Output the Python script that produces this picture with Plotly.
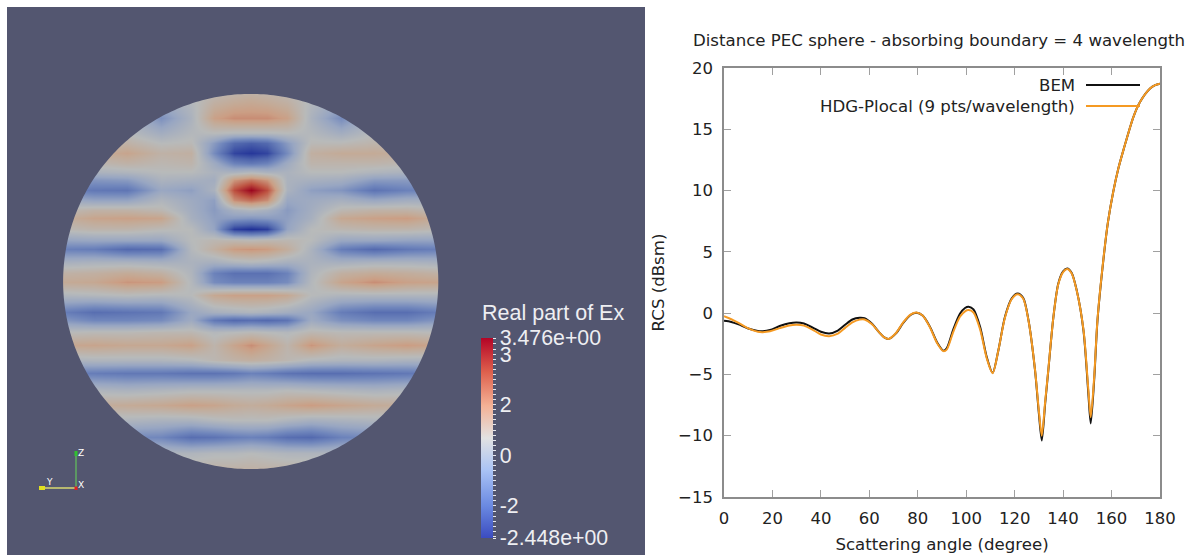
import numpy as np
import plotly.graph_objects as go

W, H = 1194, 555

# ---------- right panel: RCS curves ----------
ANGLE = [0, 3, 6, 10, 14, 16, 19, 23, 27, 30, 33, 37, 40, 43.4, 47, 50, 53, 56, 58, 61, 64, 66, 68, 71, 74, 77, 79.5,
         82, 85, 88, 90.6, 92, 94.7, 97.4, 99.5, 101, 103, 105.7, 108.5, 110.9, 113.3, 116, 118.8, 121.2, 123.5, 125.7,
         128.4, 130, 131.2, 132.6, 133.9, 136, 138, 140, 141.7, 143.5, 145.6, 148.4, 150.4, 151.4, 152.8, 154.2, 156.6,
         158.5, 160.7, 162.8, 164.9, 169, 171.8, 176, 178, 180]
BEM = [-0.63, -0.72, -0.92, -1.25, -1.45, -1.47, -1.38, -1.05, -0.82, -0.76, -0.85, -1.22, -1.52, -1.66, -1.42, -0.95, -0.52,
       -0.38, -0.42, -0.85, -1.55, -1.95, -2.1, -1.65, -0.8, -0.15, 0.03, -0.2, -1.1, -2.4, -3.07, -2.85, -1.3, -0.05, 0.42, 0.52,
       0.3, -1.1, -3.6, -4.87, -3.0, -0.3, 1.2, 1.6, 1.25, -0.57, -4.65, -8.2, -10.4, -7.35, -4.65, -0.3, 2.4, 3.4, 3.65, 3.3,
       1.88, -1.4, -6.5, -9.0, -5.5, -0.57, 4.3, 7.4, 9.9, 11.8, 13.3, 16.0, 17.25, 18.35, 18.6, 18.72]
HDG = [-0.25, -0.5, -0.8, -1.25, -1.52, -1.55, -1.48, -1.22, -1.0, -0.95, -1.02, -1.4, -1.74, -1.88, -1.68, -1.2, -0.75,
       -0.53, -0.52, -0.88, -1.55, -1.95, -2.1, -1.62, -0.75, -0.12, 0.05, -0.2, -1.15, -2.45, -3.1, -2.95, -1.5, -0.3, 0.15, 0.25,
       0.05, -1.3, -3.7, -4.9, -3.0, -0.35, 1.15, 1.55, 1.2, -0.6, -4.6, -8.0, -10.0, -7.2, -4.6, -0.3, 2.35, 3.35, 3.6, 3.25,
       1.85, -1.35, -6.2, -8.5, -5.3, -0.5, 4.35, 7.4, 9.9, 11.8, 13.3, 16.0, 17.25, 18.35, 18.6, 18.72]
CURVE_NAMES = ["BEM", "HDG-Plocal (9 pts/wavelength)"]
X_TICKS = list(range(0, 181, 20))
Y_TICKS = list(range(-15, 21, 5))

# ---------- left panel: field samples (Real part of Ex) ----------
FIELD_X = [-10, 102, 202, 302, 392, 462, 522, 572, 622, 682, 752, 842, 942, 1042, 1160]
FIELD_Y = [0, 30, 85, 130, 160, 190, 220, 245, 270, 300, 330, 360, 385, 418, 450, 478, 515, 550, 575, 615, 665, 690, 725, 765, 810, 850, 900, 945, 990, 1040, 1090, 1155]
FIELD = [
    [0.5, 0.5, 0.4, 0.4, 0.5, 0.6, 0.7, 0.8, 0.7, 0.6, 0.5, 0.4, 0.4, 0.5, 0.5],   # 0
    [0.4, 0.4, 0.3, 0.0, 0.4, 0.9, 1.1, 1.2, 1.1, 0.9, 0.4, 0.0, 0.3, 0.4, 0.4],   # 30
    [0.4, 0.4, 0.2, -0.7, 0.2, 1.5, 1.8, 1.8, 1.8, 1.5, 0.2, -0.8, 0.2, 0.4, 0.4], # 85
    [0.5, 0.6, 0.5, 0.0, 0.4, 0.5, 0.4, 0.4, 0.4, 0.5, 0.4, 0.0, 0.5, 0.6, 0.5],   # 130
    [0.6, 0.7, 0.9, 0.5, 0.6, -0.5, -1.5, -1.7, -1.5, -0.5, 0.6, 0.6, 0.8, 0.7, 0.6], # 160
    [0.9, 1.1, 1.4, 0.9, 1.0, -0.8, -2.1, -2.3, -2.1, -0.8, 1.0, 1.2, 1.2, 1.1, 0.9], # 190
    [0.6, 0.7, 0.9, 0.7, 0.8, -0.1, -1.0, -1.2, -1.0, -0.1, 0.8, 0.8, 0.8, 0.7, 0.6], # 220
    [0.3, 0.2, 0.3, 0.5, 0.5, 0.2, 0.2, 0.4, 0.2, 0.2, 0.5, 0.5, 0.3, 0.2, 0.3],   # 245
    [-0.4, -0.6, -0.5, 0.2, 0.1, 0.0, 1.7, 2.1, 1.7, 0.2, 0.1, 0.0, -0.5, -0.5, -0.4], # 270
    [-0.9, -1.2, -1.25, -0.2, -0.4, 0.2, 2.6, 3.47, 2.6, 0.2, -0.4, -0.6, -1.3, -1.0, -0.9], # 300
    [0.0, -0.3, -0.3, 0.3, -0.1, -0.4, 1.8, 2.2, 1.8, -0.2, -0.1, 0.1, -0.2, 0.0, 0.0], # 330
    [0.6, 0.9, 0.9, 0.7, 0.0, -0.5, 0.1, 0.3, 0.1, -0.5, 0.0, 0.7, 0.9, 0.9, 0.6], # 360
    [1.0, 1.4, 1.5, 1.4, 0.1, -0.4, -0.5, -0.6, -0.5, -0.4, 0.1, 1.3, 1.5, 1.6, 1.0], # 385
    [0.6, 0.8, 0.8, 0.6, 0.5, -0.3, -2.2, -2.42, -2.2, -0.3, 0.5, 0.7, 0.8, 0.8, 0.6], # 418
    [-0.3, -0.2, -0.2, -0.2, 0.5, 0.7, 0.7, 0.6, 0.7, 0.7, 0.5, -0.2, -0.2, -0.3, -0.3], # 450
    [-1.0, -1.1, -1.5, -1.4, 0.4, 1.0, 1.6, 1.7, 1.6, 1.1, 0.2, -1.1, -1.5, -1.2, -1.0], # 478
    [0.1, 0.2, 0.2, 0.1, 0.2, 0.1, 0.3, 0.4, 0.3, 0.1, 0.2, 0.1, 0.2, 0.2, 0.1],   # 515
    [0.9, 1.0, 1.2, 1.0, 0.3, -1.0, -1.35, -1.35, -1.35, -1.0, 0.3, 1.0, 1.2, 1.1, 0.9], # 550
    [1.2, 1.3, 1.7, 1.6, 0.4, -0.8, -1.0, -1.0, -1.0, -0.8, 0.4, 1.4, 1.8, 1.5, 1.4], # 575
    [0.3, 0.4, 0.5, 0.4, 0.5, 1.3, 1.5, 1.5, 1.5, 1.3, 0.5, 0.3, 0.3, 0.3, 0.3],   # 615
    [-1.0, -1.4, -1.3, -1.2, -0.2, 0.1, 0.2, 0.3, 0.2, 0.0, -0.2, -1.1, -1.4, -1.4, -1.0], # 665
    [-0.5, -0.9, -0.9, -0.8, -0.1, -1.2, -1.5, -1.4, -1.5, -1.3, -0.1, -0.7, -0.9, -0.9, -0.5], # 690
    [0.5, 0.6, 0.6, 0.7, 0.7, 0.4, 0.5, 0.6, 0.5, 0.4, 0.7, 0.6, 0.6, 0.6, 0.5],   # 725
    [1.3, 1.4, 1.3, 1.3, 1.5, 0.8, 1.4, 1.8, 1.4, 0.8, 1.7, 1.1, 1.4, 1.6, 1.3],   # 765
    [0.2, 0.3, 0.3, 0.3, 0.4, 0.7, 0.9, 1.0, 0.9, 0.7, 0.4, 0.3, 0.3, 0.2, 0.2],   # 810
    [-1.0, -1.1, -1.2, -1.2, -1.3, -1.3, -1.2, -1.0, -1.1, -1.3, -1.4, -1.4, -1.3, -1.2, -1.0], # 850
    [0.3, 0.3, 0.2, 0.3, 0.4, 0.4, 0.4, 0.4, 0.4, 0.5, 0.4, 0.3, 0.2, 0.3, 0.3],   # 900
    [1.0, 1.1, 1.2, 1.3, 1.5, 1.4, 1.2, 1.1, 1.2, 1.4, 1.6, 1.4, 1.2, 1.1, 1.0],   # 945
    [0.3, 0.3, 0.3, 0.2, 0.2, 0.4, 0.5, 0.5, 0.5, 0.3, 0.1, 0.2, 0.3, 0.3, 0.3],   # 990
    [-0.6, -0.7, -0.8, -0.9, -1.4, -1.3, -1.1, -1.0, -1.1, -1.4, -1.5, -1.0, -0.8, -0.7, -0.6], # 1040
    [0.3, 0.3, 0.3, 0.3, 0.3, 0.4, 0.4, 0.5, 0.4, 0.3, 0.3, 0.3, 0.3, 0.3, 0.3],   # 1090
    [1.0, 1.0, 1.0, 1.0, 1.0, 1.1, 1.1, 1.1, 1.1, 1.1, 1.0, 1.0, 1.0, 1.0, 1.0],   # 1155
]
FIELD_MIN, FIELD_MAX = -2.448, 3.476
BAR_TICK_VALUES = [3.476, 3, 1.5, 0, -1.5, -2.448]
BAR_TICK_LABELS = ["3.476e+00", "3", "2", "0", "-2", "-2.448e+00"]

BG = "#535670"
BAR_STOPS = [0, 0.16, 0.34, 0.5, 0.66, 0.83, 1]
BAR_RGB = [(59, 76, 192), (106, 137, 225), (170, 195, 245), (226, 226, 226), (244, 178, 150), (222, 96, 77), (180, 4, 38)]
SURF_STOPS = [0, 0.14, 0.26, 0.37, 0.5, 0.62, 0.68, 0.84, 1]
SURF_RGB = [(30, 46, 150), (78, 100, 172), (112, 134, 188), (152, 166, 194), (184, 186, 186), (196, 170, 150), (203, 158, 132), (190, 84, 66), (155, 5, 30)]
scale = lambda stops, rgb: [[s, "rgb(%d,%d,%d)" % c] for s, c in zip(stops, rgb)]

# pixel helpers
px = lambda x: x / W
py = lambda y: 1 - y / H
to_dx = lambda x: (x - 60) * 3
to_dy = lambda y: (y - 90) * 3

fig = go.Figure()

fig.add_trace(go.Heatmap(x=FIELD_X, y=FIELD_Y, z=FIELD, zmin=FIELD_MIN, zmax=FIELD_MAX, zsmooth="best",
                         colorscale=scale(SURF_STOPS, SURF_RGB), showscale=False, xaxis="x2", yaxis="y2", hoverinfo="skip"))

minor = [round(v * 0.15, 2) for v in range(-16, 24)]
tickvals = BAR_TICK_VALUES + [v for v in minor if v not in BAR_TICK_VALUES]
ticktext = BAR_TICK_LABELS + [""] * (len(tickvals) - len(BAR_TICK_LABELS))
fig.add_trace(go.Scatter(x=[-900, -900], y=[-900, -900], mode="markers", xaxis="x2", yaxis="y2", showlegend=False,
                         hoverinfo="skip",
                         marker=dict(color=[FIELD_MIN, FIELD_MAX], cmin=FIELD_MIN, cmax=FIELD_MAX,
                                     colorscale=scale(BAR_STOPS, BAR_RGB), showscale=True,
                                     colorbar=dict(x=px(481), xanchor="left", xpad=0, y=py(538), yanchor="bottom", ypad=0,
                                                   thickness=12, thicknessmode="pixels", len=200, lenmode="pixels",
                                                   outlinewidth=0, tickmode="array", tickvals=tickvals, ticktext=ticktext,
                                                   ticks="outside", ticklen=3, tickcolor="#e8e8ee", tickwidth=1,
                                                   tickfont=dict(family="Liberation Sans", size=21.3, color="#eeeef2")))))

fig.add_trace(go.Scatter(x=ANGLE, y=BEM, mode="lines", name=CURVE_NAMES[0], line=dict(color="#111111", width=2, shape="spline", smoothing=0.8), showlegend=False))
fig.add_trace(go.Scatter(x=ANGLE, y=HDG, mode="lines", name=CURVE_NAMES[1], line=dict(color="#f59a23", width=2, shape="spline", smoothing=0.8), showlegend=False))

# circular mask
theta = np.linspace(0, 2 * np.pi, 361)
cx, cy, r = to_dx(250.7), to_dy(281.5), 187.6 * 3
hole = "M" + " L".join(f"{cx + r * np.cos(t):.1f},{cy + r * np.sin(t):.1f}" for t in theta) + " Z"
outer = "M-150,-150 L1320,-150 L1320,1320 L-150,1320 Z "
shapes = [
    dict(type="rect", xref="paper", yref="paper", x0=px(7), x1=px(645), y0=0, y1=py(7), fillcolor=BG, line_width=0, layer="below"),
    dict(type="path", xref="x2", yref="y2", path=outer + hole, fillcolor=BG, line_width=0, fillrule="evenodd"),
    # orientation triad
    dict(type="line", xref="paper", yref="paper", x0=px(76), x1=px(76), y0=py(488), y1=py(452), line=dict(color="#5fae5f", width=1.5)),
    dict(type="line", xref="paper", yref="paper", x0=px(76), x1=px(41), y0=py(488), y1=py(488), line=dict(color="#d8d870", width=1.5)),
    dict(type="rect", xref="paper", yref="paper", x0=px(74.5), x1=px(77.5), y0=py(456), y1=py(451), fillcolor="#30c030", line_width=0),
    dict(type="rect", xref="paper", yref="paper", x0=px(39), x1=px(45), y0=py(490), y1=py(486), fillcolor="#e0e020", line_width=0),
    dict(type="rect", xref="paper", yref="paper", x0=px(74.5), x1=px(77.5), y0=py(490), y1=py(486.5), fillcolor="#e02020", line_width=0),
    # legend samples
    dict(type="line", xref="paper", yref="paper", x0=px(1086), x1=px(1140), y0=py(85), y1=py(85), line=dict(color="#111111", width=2)),
    dict(type="line", xref="paper", yref="paper", x0=px(1086), x1=px(1140), y0=py(106), y1=py(106), line=dict(color="#f59a23", width=2)),
]

FONT = "DejaVu Sans"
def note(text, x, y, size, color, anchor="left", family=FONT):
    return dict(text=text, x=px(x), y=py(y), xref="paper", yref="paper", showarrow=False, xanchor=anchor, yanchor="middle",
                font=dict(family=family, size=size, color=color), borderpad=0)

annotations = [
    note("Real part of Ex", 481, 313, 21.5, "#eeeef2", family="Liberation Sans"),
    note("Z", 77, 453, 9, "#ffffff"),
    note("Y", 45, 482, 9, "#ffffff"),
    note("X", 77, 485, 9, "#ffffff"),
    note(CURVE_NAMES[0], 1076, 85, 16.6, "#222222", "right"),
    note(CURVE_NAMES[1], 1076, 106, 16.6, "#222222", "right"),
]

axis_common = dict(showgrid=False, zeroline=False, showline=True, linecolor="#8c8c8c", linewidth=1.5, mirror="ticks",
                   ticks="inside", ticklen=7, tickcolor="#a0a0a0", tickfont=dict(family=FONT, size=16.5, color="#222222"))

fig.update_layout(
    width=W, height=H, autosize=False, showlegend=False,
    margin=dict(l=0, r=0, t=0, b=0, autoexpand=False), paper_bgcolor="white", plot_bgcolor="white",
    font=dict(family=FONT),
    title=dict(text="Distance PEC sphere - absorbing boundary = 4 wavelength", x=px(939), xanchor="center", y=py(40), yanchor="middle",
               font=dict(family=FONT, size=16.6, color="#222222")),
    xaxis=dict(domain=[px(724), px(1160)], range=[0, 180], tickmode="array", tickvals=X_TICKS, anchor="y", ticklabelstandoff=5,
               title=dict(text="Scattering angle (degree)", font=dict(family=FONT, size=16.6, color="#222222"), standoff=12), **axis_common),
    yaxis=dict(domain=[py(497), py(68)], range=[-15, 20], tickmode="array", tickvals=Y_TICKS, anchor="x", ticklabelstandoff=6,
               title=dict(text="RCS (dBsm)", font=dict(family=FONT, size=16.6, color="#222222"), standoff=9), **axis_common),
    xaxis2=dict(domain=[px(7), px(645)], range=[to_dx(7), to_dx(645)], visible=False, anchor="y2"),
    yaxis2=dict(domain=[py(555), py(7)], range=[to_dy(555), to_dy(7)], visible=False, anchor="x2"),
    shapes=shapes, annotations=annotations,
)

fig.write_html("out.html", config={"displayModeBar": False},
               post_script="document.body.style.margin='0';document.documentElement.style.overflow='hidden';")
